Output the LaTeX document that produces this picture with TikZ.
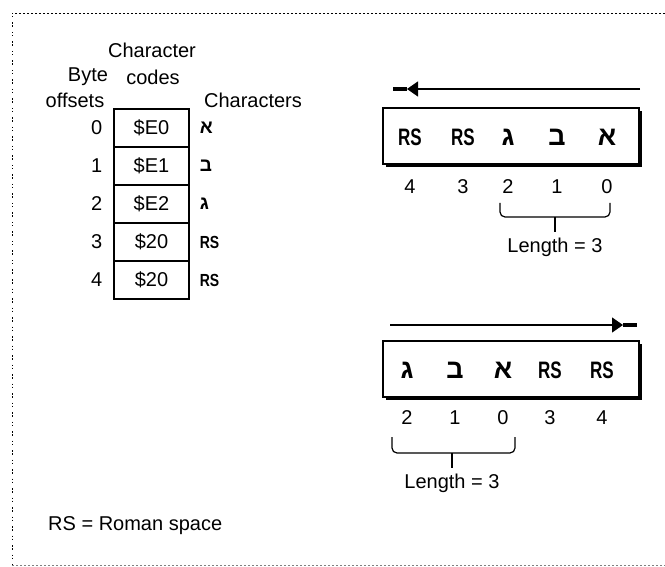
\documentclass[tikz,border=0pt]{standalone}
\usepackage{graphicx}
\usepackage{fontspec}
\setmainfont{Liberation Sans}
\newfontfamily\hebfont[Script=Hebrew]{Liberation Sans}
\TeXXeTstate=1
\usetikzlibrary{positioning,arrows.meta,shadows}

\newcommand{\heb}[1]{{\hebfont\bfseries\beginR #1\endR}}
\newcommand{\rsmark}{\scalebox{1}[1.4]{\bfseries\fontsize{17}{17}\selectfont RS}}
\newcommand{\rssmall}{\scalebox{1}[1.25]{\bfseries\fontsize{14}{14}\selectfont RS}}

\tikzset{
  lbl/.style={inner sep=0pt,font=\fontsize{20}{22}\selectfont},
  cell/.style={draw,line width=1.2pt,minimum width=75pt,minimum height=38pt,inner sep=0pt,font=\fontsize{20}{22}\selectfont},
  strip/.style={draw,line width=1.4pt,fill=white,minimum width=256pt,minimum height=56pt,
    drop shadow={opacity=1,shadow xshift=3pt,shadow yshift=-3pt,fill=black}},
  smallch/.style={inner sep=0pt,font=\fontsize{19}{20}\selectfont},
  bigch/.style={inner sep=0pt,font=\fontsize{27}{28}\selectfont},
  brace/.style={line width=1.2pt,rounded corners=5pt},
  flow/.style={line width=1.2pt,-{Triangle[length=11pt,width=15pt]}},
  stub/.style={line width=4.5pt},
  border/.style={line width=0.8pt,dash pattern=on 2pt off 2pt},
}

\begin{document}
\begin{tikzpicture}[x=1pt,y=-1pt]
\useasboundingbox (0,0) rectangle (665,567);
% frame
\draw[border] (665,13) -- (12,13);
\draw[border,line width=0.6pt,gray] (12,565) -- (665,565);
\draw[line width=1pt,dash pattern=on 1.5pt off 1.5pt on 1.5pt off 5pt] (12,13) -- (12,565);

% table of bytes
\node[lbl] (hchar) at (152,50) {Character};
\node[lbl] (hcodes) at (153,77) {codes};
\node[lbl] (hbyte) at (88,77) {Byte};
\node[lbl] (hoff) at (75,100) {offsets};
\node[lbl] (hchars) at (253,100) {Characters};
\foreach \i/\code/\ch in {0/\$E0/\heb{א},1/\$E1/\heb{ב},2/\$E2/\heb{ג},3/\$20/\rssmall,4/\$20/\rssmall}{
  \node[cell] (c\i) at (151.5,{128+38*\i}) {\code};
  \node[lbl,left=11pt of c\i.west] (o\i) {\i};
  \node[smallch,right=10pt of c\i.east] (ch\i) {\ch};
}

% right-to-left strip
\node[strip] (rtl) at (511,136) {};
\foreach \ch/\n/\x in {\rsmark/4/410,\rsmark/3/463,\heb{ג}/2/508,\heb{ב}/1/557,\heb{א}/0/607}{
  \node[bigch] (tc\n) at (\x,137) {\ch};
  \node[lbl] (tn\n) at (\x,187) {\n};
}
\coordinate (ta) at (640,89);
\coordinate (tb) at (407,89);
\coordinate (tt) at (393,89);
\draw[flow] (ta) -- (tb);
\draw[stub] (tb) -- (tt);
\coordinate (tbm) at (555,217);
\draw[brace] (500,203) |- (tbm) -| (610,203);
\node[lbl] (tlen) at (555,247) {Length = 3};
\draw[line width=1.2pt] (tbm) -- ([yshift=5pt]tlen.north);

% left-to-right strip
\node[strip] (ltr) at (511,369) {};
\foreach \ch/\n/\x in {\heb{ג}/2/407,\heb{ב}/1/455,\heb{א}/0/503,\rsmark/3/550,\rsmark/4/602}{
  \node[bigch] (bc\n) at (\x,370) {\ch};
  \node[lbl] (bn\n) at (\x,418) {\n};
}
\coordinate (ba) at (390,325);
\coordinate (bb) at (623,325);
\coordinate (bt) at (637,325);
\draw[flow] (ba) -- (bb);
\draw[stub] (bb) -- (bt);
\coordinate (bbm) at (452,453);
\draw[brace] (392,437) |- (bbm) -| (515,437);
\node[lbl] (blen) at (452,483) {Length = 3};
\draw[line width=1.2pt] (bbm) -- ([yshift=5pt]blen.north);

\node[lbl,anchor=west] (key) at (48,526) {RS = Roman space};
\end{tikzpicture}
\end{document}
